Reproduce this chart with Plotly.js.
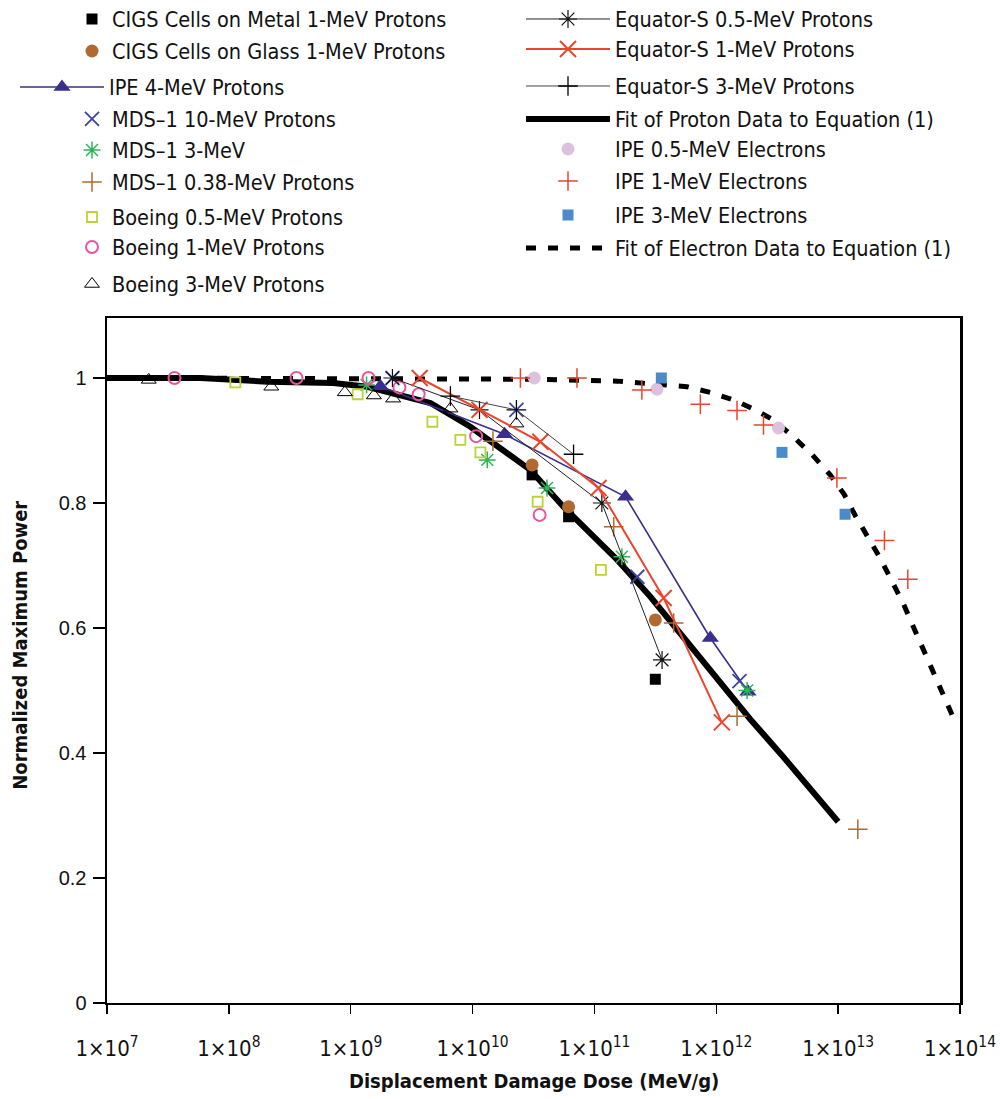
<!DOCTYPE html>
<html><head><meta charset="utf-8">
<script src="https://cdn.plot.ly/plotly-3.0.1.min.js"></script>
<style>html,body{margin:0;padding:0;background:#fff}</style>
</head><body>
<div id="chart" style="width:1000px;height:1099px"></div>
<script>
// ---------- data (dose in MeV/g, normalized maximum power) ----------
const cigsDose = [3.08e10, 6.14e10, 3.16e11];
const cigsMetalP = [0.845, 0.778, 0.518];
const cigsGlassP = [0.861, 0.794, 0.613];

const ipe4Dose = [1.75e9, 1.83e10, 1.80e11, 8.93e11, 1.82e12];
const ipe4P = [0.987, 0.910, 0.810, 0.584, 0.498];

const mds10Dose = [2.20e9, 2.29e10, 2.25e11, 1.55e12];
const mds10P = [1.0, 0.949, 0.682, 0.515];

const mds3Dose = [1.35e9, 1.32e10, 4.08e10, 1.68e11, 1.79e12];
const mds3P = [0.989, 0.869, 0.824, 0.714, 0.500];

const mds038Dose = [1.47e10, 1.44e11, 4.47e11, 1.48e12, 1.45e13];
const mds038P = [0.899, 0.762, 0.608, 0.459, 0.278];

const boe05Dose = [1.13e8, 1.14e9, 4.68e9, 7.94e9, 1.16e10, 3.42e10, 1.13e11];
const boe05P = [0.993, 0.974, 0.930, 0.901, 0.881, 0.802, 0.693];

const boe1Dose = [3.58e7, 3.59e8, 1.40e9, 2.51e9, 3.61e9, 1.07e10, 3.55e10];
const boe1P = [1.0, 1.0, 1.0, 0.985, 0.974, 0.907, 0.781];

const boe3Dose = [2.20e7, 2.23e8, 8.95e8, 1.55e9, 2.23e9, 6.58e9, 2.29e10];
const boe3P = [0.997, 0.986, 0.977, 0.972, 0.967, 0.951, 0.927];

const eqs05Dose = [2.20e9, 1.14e10, 1.15e11, 3.59e11];
const eqs05P = [1.0, 0.949, 0.800, 0.549];

const eqs1Dose = [3.68e9, 1.14e10, 3.60e10, 1.08e11, 3.70e11, 1.11e12];
const eqs1P = [1.0, 0.949, 0.898, 0.824, 0.648, 0.449];

const eqs3Dose = [6.58e9, 2.29e10, 6.74e10];
const eqs3P = [0.971, 0.949, 0.878];

const protonFitDose = [1e7, 5.84e7, 2.08e8, 7.21e8, 1.37e9, 2.56e9, 4.51e9, 9.59e9, 1.79e10, 2.98e10, 5.56e10, 8.11e10, 1.54e11, 2.88e11, 5.36e11, 1.02e12, 1.90e12, 3.54e12, 6.73e12, 1.0e13];
const protonFitP = [1.0, 1.0, 0.994, 0.992, 0.986, 0.973, 0.960, 0.922, 0.885, 0.853, 0.794, 0.762, 0.709, 0.650, 0.586, 0.521, 0.454, 0.394, 0.330, 0.290];

const ipeE05Dose = [3.21e10, 3.26e11, 3.24e12];
const ipeE05P = [1.0, 0.982, 0.920];

const ipeE1Dose = [2.47e10, 7.19e10, 2.45e11, 7.40e11, 1.48e12, 2.44e12, 9.77e12, 2.40e13, 3.73e13];
const ipeE1P = [1.0, 1.0, 0.981, 0.958, 0.948, 0.925, 0.840, 0.740, 0.678];

const ipeE3Dose = [3.54e11, 3.46e12, 1.14e13];
const ipeE3P = [1.0, 0.881, 0.782];

const elecFitDose = [1e7, 3.86e8, 6.58e9, 3.60e10, 1.53e11, 2.38e11, 5.75e11, 8.93e11, 1.38e12, 2.09e12, 2.94e12, 4.29e12, 6.14e12, 8.61e12, 1.12e13, 1.38e13, 1.77e13, 2.21e13, 2.76e13, 3.41e13, 4.12e13, 4.98e13, 6.01e13, 7.26e13, 9.12e13];
const elecFitP = [1.0, 1.0, 0.999, 0.998, 0.995, 0.992, 0.986, 0.977, 0.965, 0.949, 0.933, 0.906, 0.877, 0.845, 0.814, 0.780, 0.746, 0.712, 0.675, 0.640, 0.603, 0.566, 0.530, 0.491, 0.450];

const xTickVals = [1e7, 1e8, 1e9, 1e10, 1e11, 1e12, 1e13, 1e14];
const xTickText = ['1×10<sup>7</sup>', '1×10<sup>8</sup>', '1×10<sup>9</sup>', '1×10<sup>10</sup>', '1×10<sup>11</sup>', '1×10<sup>12</sup>', '1×10<sup>13</sup>', '1×10<sup>14</sup>'];
const yTickVals = [0, 0.2, 0.4, 0.6, 0.8, 1];
const yTickText = ['0', '0.2', '0.4', '0.6', '0.8', '1'];

const xTitle = 'Displacement Damage Dose (MeV/g)';
const yTitle = 'Normalized Maximum Power';

// ---------- styling ----------
const NARROW = '"DejaVu Sans Condensed", "Liberation Sans Narrow", sans-serif';
const REG = '"Liberation Sans", Arial, sans-serif';

const RED = '#e8462e', NAVY = '#3a2f8c', BLUE_X = '#3c44a0', GREEN = '#2fb457', BROWN = '#b06a30',
      YG = '#b8d43a', PINK = '#e8559a', LILAC = '#dcc2de', SKY = '#4b8bc9';

const traces = [];
function add(t, legendId) { t.legend = legendId; traces.push(t); }

// fits
add({name: 'Fit of Proton Data to Equation (1)', x: protonFitDose, y: protonFitP, mode: 'lines',
     line: {color: '#000', width: 6}}, 'legend13');
add({name: 'Fit of Electron Data to Equation (1)', x: elecFitDose, y: elecFitP, mode: 'lines',
     line: {color: '#000', width: 5, dash: '10px,12px'}}, 'legend17');

// left column
add({name: 'CIGS Cells on Metal 1-MeV Protons', x: cigsDose, y: cigsMetalP, mode: 'markers',
     marker: {symbol: 'square', size: 11, color: '#000'}}, 'legend');
add({name: 'CIGS Cells on Glass 1-MeV Protons', x: cigsDose, y: cigsGlassP, mode: 'markers',
     marker: {symbol: 'circle', size: 13, color: BROWN}}, 'legend2');
add({name: 'IPE 4-MeV Protons', x: ipe4Dose, y: ipe4P, mode: 'lines+markers',
     line: {color: NAVY, width: 1.6}, marker: {symbol: 'triangle-up', size: 15, color: NAVY}}, 'legend3');
add({name: 'MDS–1 10-MeV Protons', x: mds10Dose, y: mds10P, mode: 'markers',
     marker: {symbol: 'x-thin-open', size: 14, color: BLUE_X, line: {color: BLUE_X, width: 1.8}}}, 'legend4');
add({name: 'MDS–1 3-MeV', x: mds3Dose, y: mds3P, mode: 'markers',
     marker: {symbol: 'asterisk-open', size: 14, color: GREEN, line: {color: GREEN, width: 1.5}}}, 'legend5');
add({name: 'MDS–1 0.38-MeV Protons', x: mds038Dose, y: mds038P, mode: 'markers',
     marker: {symbol: 'cross-thin-open', size: 14, color: BROWN, line: {color: BROWN, width: 1.5}}}, 'legend6');
add({name: 'Boeing 0.5-MeV Protons', x: boe05Dose, y: boe05P, mode: 'markers',
     marker: {symbol: 'square-open', size: 10, color: YG, line: {color: YG, width: 1.8}}}, 'legend7');
add({name: 'Boeing 1-MeV Protons', x: boe1Dose, y: boe1P, mode: 'markers',
     marker: {symbol: 'circle-open', size: 12, color: PINK, line: {color: PINK, width: 2}}}, 'legend8');
add({name: 'Boeing 3-MeV Protons', x: boe3Dose, y: boe3P, mode: 'markers',
     marker: {symbol: 'triangle-up-open', size: 13, color: '#000', line: {color: '#000', width: 1}}}, 'legend9');

// right column
add({name: 'Equator-S 0.5-MeV Protons', x: eqs05Dose, y: eqs05P, mode: 'lines+markers',
     line: {color: '#222', width: 1}, marker: {symbol: 'asterisk-open', size: 15, color: '#111', line: {color: '#111', width: 1.2}}}, 'legend10');
add({name: 'Equator-S 1-MeV Protons', x: eqs1Dose, y: eqs1P, mode: 'lines+markers',
     line: {color: RED, width: 2}, marker: {symbol: 'x-thin-open', size: 16, color: RED, line: {color: RED, width: 2}}}, 'legend11');
add({name: 'Equator-S 3-MeV Protons', x: eqs3Dose, y: eqs3P, mode: 'lines+markers',
     line: {color: '#444', width: 1}, marker: {symbol: 'cross-thin-open', size: 14, color: '#000', line: {color: '#000', width: 1.3}}}, 'legend12');
add({name: 'IPE 0.5-MeV Electrons', x: ipeE05Dose, y: ipeE05P, mode: 'markers',
     marker: {symbol: 'circle', size: 13, color: LILAC}}, 'legend14');
add({name: 'IPE 1-MeV Electrons', x: ipeE1Dose, y: ipeE1P, mode: 'markers',
     marker: {symbol: 'cross-thin-open', size: 14, color: RED, line: {color: RED, width: 1.5}}}, 'legend15');
add({name: 'IPE 3-MeV Electrons', x: ipeE3Dose, y: ipeE3P, mode: 'markers',
     marker: {symbol: 'square', size: 11, color: SKY}}, 'legend16');

// legend placement: [symbol centre x px, row centre y px, item width]
const legendRows = {
  legend: [94, 19, 30], legend2: [94, 51, 30], legend3: [64, 87, 84], legend4: [94, 119, 30],
  legend5: [94, 150, 30], legend6: [94, 182, 30], legend7: [94, 217, 30], legend8: [94, 247, 30],
  legend9: [94, 284, 30],
  legend10: [570, 19, 84], legend11: [570, 49, 84], legend12: [570, 86, 84], legend13: [570, 119, 84],
  legend14: [570, 149, 84], legend15: [570, 181, 84], legend16: [570, 215, 84], legend17: [570, 248, 84]
};

const W = 1000, H = 1099;
const layout = {
  width: W, height: H,
  paper_bgcolor: '#fff', plot_bgcolor: '#fff',
  margin: {l: 107, r: 40, t: 318, b: 96, autoexpand: false},
  showlegend: true,
  xaxis: {
    type: 'log', range: [7, 14], tickvals: xTickVals, ticktext: xTickText,
    ticks: 'outside', ticklen: 9, tickwidth: 1.5, tickcolor: '#000', ticklabelstandoff: 16,
    showgrid: false, zeroline: false, showline: true, linewidth: 2, linecolor: '#000', mirror: true,
    tickfont: {family: NARROW, size: 22, color: '#111'}
  },
  yaxis: {
    range: [0, 1.096], tickvals: yTickVals, ticktext: yTickText,
    ticks: 'outside', ticklen: 12, tickwidth: 1.2, tickcolor: '#000', ticklabelstandoff: 2,
    showgrid: false, zeroline: false, showline: true, linewidth: 2.5, linecolor: '#000', mirror: true,
    tickfont: {family: REG, size: 20, color: '#111'}
  },
  annotations: [
    {text: xTitle, xref: 'paper', yref: 'paper', x: 0.5, y: -0.114, xanchor: 'center', yanchor: 'middle',
     showarrow: false, font: {family: NARROW, size: 20, color: '#111', weight: 'bold'}},
    {text: yTitle, xref: 'paper', yref: 'paper', x: -0.102, y: 0.523, xanchor: 'center', yanchor: 'middle',
     textangle: -90, showarrow: false, font: {family: NARROW, size: 20, color: '#111', weight: 'bold'}}
  ]
};

Object.keys(legendRows).forEach(function (id) {
  const r = legendRows[id];
  layout[id] = {
    xref: 'container', yref: 'container',
    x: (r[0] - (r[2] + 10) / 2 - 2) / W, y: 1 - r[1] / H,
    xanchor: 'left', yanchor: 'middle',
    bgcolor: 'rgba(0,0,0,0)', borderwidth: 0,
    itemwidth: r[2], itemclick: false,
    font: {family: NARROW, size: 21.5, color: '#111'}
  };
});

Plotly.newPlot('chart', traces, layout, {displayModeBar: false, staticPlot: true});
</script>
</body></html>
